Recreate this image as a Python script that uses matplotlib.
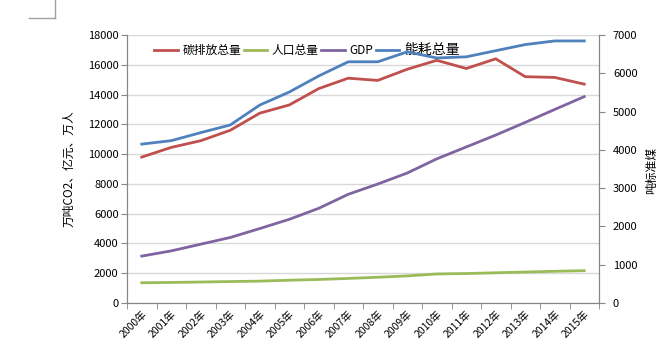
import numpy as np
import matplotlib.pyplot as plt
from matplotlib.lines import Line2D

plt.rcParams['font.family'] = ['Noto Sans CJK SC', 'DejaVu Sans']

years = [f"{y}年" for y in range(2000, 2016)]
carbon = [9800, 10450, 10900, 11600, 12750, 13300, 14400, 15100,
          14950, 15700, 16300, 15750, 16400, 15200, 15150, 14700]
population = [1360, 1380, 1410, 1440, 1470, 1530, 1580, 1650,
              1730, 1820, 1950, 1980, 2030, 2080, 2130, 2170]
gdp = [3150, 3500, 3950, 4400, 5000, 5620, 6360, 7300,
       7990, 8730, 9680, 10480, 11280, 12130, 13000, 13860]
energy = [4150, 4240, 4450, 4650, 5170, 5510, 5930, 6300,
          6300, 6560, 6400, 6430, 6590, 6750, 6845, 6845]

c_red, c_green, c_purple, c_blue = '#C0504D', '#9BBB59', '#8064A2', '#4F81BD'
spine_c = '#868686'

fig = plt.figure(figsize=(6.67, 3.62), dpi=100)
ax = fig.add_axes([127/667, 59/362, 472/667, 268/362])
ax2 = ax.twinx()

x = np.arange(len(years))
ax.plot(x, carbon, color=c_red, lw=2)
ax.plot(x, population, color=c_green, lw=2)
ax.plot(x, gdp, color=c_purple, lw=2)
ax2.plot(x, energy, color=c_blue, lw=2)

ax.set_xlim(-0.5, len(years) - 0.5)
ax.set_ylim(0, 18000)
ax.set_yticks(range(0, 18001, 2000))
ax2.set_ylim(0, 7000)
ax2.set_yticks(range(0, 7001, 1000))
ax.grid(axis='y', color='#D9D9D9', lw=1)
ax.set_axisbelow(True)

ax.set_xticks(x)
ax.set_xticklabels(years, rotation=45, ha='right', rotation_mode='anchor', fontsize=7.5)
ax.tick_params(axis='x', length=0, pad=4)
ax.set_xticks(np.arange(-0.5, len(years), 1), minor=True)
ax.tick_params(axis='x', which='minor', length=4, color=spine_c)
ax.tick_params(axis='y', length=4, color=spine_c, labelsize=8, pad=2)
ax2.tick_params(axis='y', length=4, color=spine_c, labelsize=8, pad=6)

for a in (ax, ax2):
    a.spines['top'].set_visible(False)
    for s in ('left', 'right', 'bottom'):
        a.spines[s].set_color(spine_c)

ax.set_ylabel('万吨CO2、亿元、万人', fontsize=8.5, labelpad=9)
fig.text(652/667, 1 - 170/362, '吨标准煤', rotation=90, fontsize=8.5,
         ha='center', va='center')

handles = [Line2D([], [], color=c, lw=2) for c in (c_red, c_green, c_purple, c_blue)]
labels = ['碳排放总量', '人口总量', 'GDP', '能耗总量']
leg = ax.legend(handles, labels, ncol=4, loc='upper left', bbox_to_anchor=(0.04, 1.0),
                frameon=False, fontsize=8.5, handlelength=2.0, handletextpad=0.4,
                columnspacing=0.2, borderaxespad=0.3)
leg.get_texts()[3].set_fontsize(10)

# corner mark at top left
fig.add_artist(Line2D([29/667, 55/667], [1 - 18/362, 1 - 18/362], color='#A0A0A0', lw=1))
fig.add_artist(Line2D([55/667, 55/667], [1 - 18/362, 1.0], color='#A0A0A0', lw=1))

fig.savefig('out.png', dpi=100)
